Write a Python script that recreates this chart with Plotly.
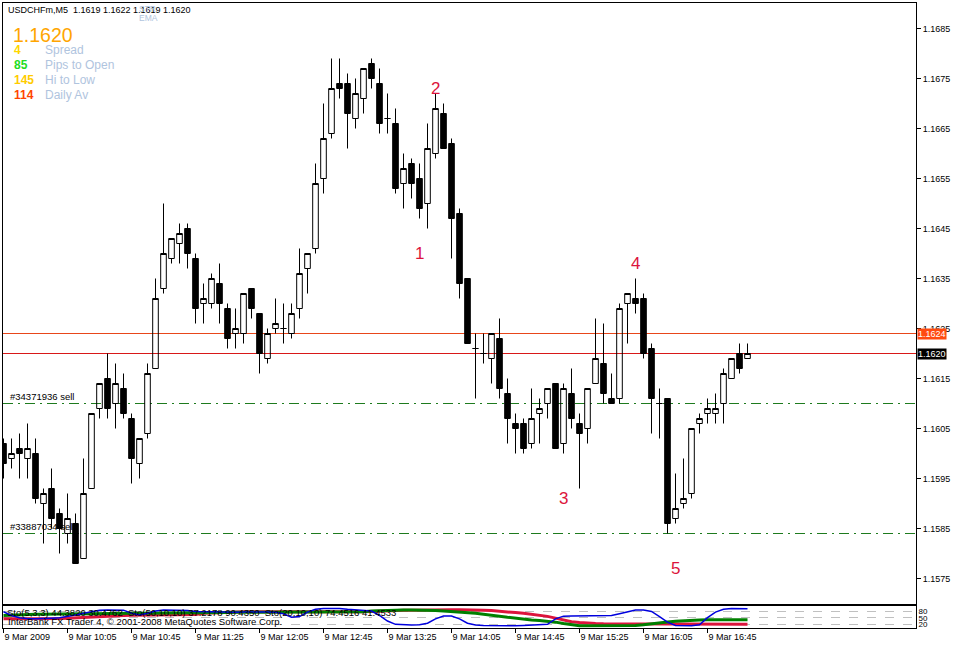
import plotly.graph_objects as go

# ---------------- data (USDCHFm, M5, 9 Mar 2009 from 09:25) ----------------
open_ = [1.1602, 1.1599, 1.1601, 1.1599, 1.1600, 1.1590, 1.1593, 1.1588, 1.1584, 1.1586,
         1.1579, 1.1593, 1.1609, 1.1615, 1.1610, 1.1613, 1.1607, 1.1598, 1.1604, 1.1617,
         1.1633, 1.1639, 1.1642, 1.1645, 1.1639, 1.1630, 1.1630, 1.1634, 1.1629, 1.1624,
         1.1624, 1.1633, 1.1628, 1.1619, 1.1625, 1.1625, 1.1624, 1.1629, 1.1637, 1.1641,
         1.1655, 1.1664, 1.1674, 1.1674, 1.1667, 1.1671, 1.1678, 1.1674, 1.1667, 1.1666,
         1.1654, 1.1658, 1.1655, 1.1650, 1.1660, 1.1668, 1.1662, 1.1648, 1.1635, 1.1621,
         1.1620, 1.1619, 1.1623, 1.1612, 1.1606, 1.1606, 1.1602, 1.1608, 1.1610, 1.1614,
         1.1602, 1.1612, 1.1606, 1.1605, 1.1614, 1.1618, 1.1611, 1.1611, 1.1630, 1.1631,
         1.1631, 1.1621, 1.1610, 1.1611, 1.1587, 1.1590, 1.1592, 1.1606, 1.1608, 1.1608,
         1.1610, 1.1615, 1.1620, 1.1619]
high = [1.1603, 1.1603, 1.1604, 1.1606, 1.1603, 1.1593, 1.1597, 1.1589, 1.1592, 1.1588,
        1.1599, 1.1608, 1.1614, 1.1620, 1.1618, 1.1616, 1.1608, 1.1603, 1.1618, 1.1635,
        1.1650, 1.1643, 1.1646, 1.1646, 1.1640, 1.1634, 1.1636, 1.1638, 1.1630, 1.1629,
        1.1632, 1.1633, 1.1628, 1.1625, 1.1631, 1.1630, 1.1630, 1.1641, 1.1640, 1.1658,
        1.1670, 1.1679, 1.1679, 1.1676, 1.1675, 1.1677, 1.1679, 1.1677, 1.1672, 1.1669,
        1.1660, 1.1659, 1.1658, 1.1666, 1.1672, 1.1670, 1.1663, 1.1649, 1.1635, 1.1624,
        1.1624, 1.1624, 1.1627, 1.1615, 1.1608, 1.1607, 1.1613, 1.1611, 1.1613, 1.1614,
        1.1614, 1.1617, 1.1608, 1.1613, 1.1627, 1.1626, 1.1616, 1.1630, 1.1632, 1.1635,
        1.1632, 1.1622, 1.1613, 1.1611, 1.1596, 1.1599, 1.1605, 1.1608, 1.1611, 1.1612,
        1.1617, 1.1619, 1.1622, 1.1622]
low = [1.1595, 1.1597, 1.1595, 1.1595, 1.1590, 1.1582, 1.1585, 1.1580, 1.1582, 1.1578,
       1.1579, 1.1593, 1.1607, 1.1607, 1.1605, 1.1607, 1.1594, 1.1595, 1.1603, 1.1617,
       1.1632, 1.1638, 1.1638, 1.1637, 1.1626, 1.1626, 1.1629, 1.1626, 1.1621, 1.1621,
       1.1622, 1.1627, 1.1616, 1.1618, 1.1624, 1.1622, 1.1623, 1.1627, 1.1632, 1.1640,
       1.1652, 1.1663, 1.1671, 1.1661, 1.1665, 1.1668, 1.1673, 1.1664, 1.1664, 1.1652,
       1.1649, 1.1651, 1.1647, 1.1645, 1.1659, 1.1661, 1.1639, 1.1631, 1.1622, 1.1611,
       1.1618, 1.1614, 1.1611, 1.1602, 1.1600, 1.1600, 1.1601, 1.1602, 1.1607, 1.1601,
       1.1600, 1.1605, 1.1593, 1.1602, 1.1614, 1.1610, 1.1610, 1.1610, 1.1622, 1.1628,
       1.1619, 1.1604, 1.1603, 1.1584, 1.1586, 1.1589, 1.1591, 1.1604, 1.1606, 1.1606,
       1.1606, 1.1615, 1.1616, 1.1619]
close = [1.1598, 1.1600, 1.1600, 1.1601, 1.1591, 1.1592, 1.1587, 1.1585, 1.1587, 1.1578,
         1.1592, 1.1608, 1.1614, 1.1609, 1.1614, 1.1608, 1.1599, 1.1603, 1.1616, 1.1631,
         1.1640, 1.1643, 1.1644, 1.1640, 1.1629, 1.1631, 1.1635, 1.1630, 1.1623, 1.1625,
         1.1632, 1.1629, 1.1620, 1.1624, 1.1626, 1.1625, 1.1628, 1.1636, 1.1640, 1.1654,
         1.1663, 1.1673, 1.1673, 1.1668, 1.1672, 1.1677, 1.1675, 1.1666, 1.1667, 1.1653,
         1.1657, 1.1654, 1.1649, 1.1661, 1.1669, 1.1661, 1.1647, 1.1634, 1.1622, 1.1621,
         1.1620, 1.1624, 1.1613, 1.1607, 1.1605, 1.1601, 1.1607, 1.1609, 1.1613, 1.1601,
         1.1613, 1.1607, 1.1604, 1.1613, 1.1619, 1.1612, 1.1610, 1.1629, 1.1632, 1.1630,
         1.1620, 1.1611, 1.1610, 1.1586, 1.1589, 1.1591, 1.1605, 1.1607, 1.1609, 1.1609,
         1.1616, 1.1619, 1.1617, 1.1620]

# stochastic oscillators in the lower window (0..100)
sto_fast = [77, 60, 50, 45, 45, 45, 48, 50, 55, 62, 70, 78, 84, 85, 85, 84, 70, 62, 70, 80,
            85, 85, 85, 82, 78, 77, 76, 76, 75, 75, 76, 77, 77, 76, 74, 68, 52, 55, 75, 88,
            92, 92, 92, 88, 85, 85, 80, 60, 35, 20, 18, 17, 18, 25, 45, 58, 58, 45, 25, 17,
            15, 14, 14, 14, 14, 15, 16, 18, 20, 45, 57, 58, 58, 59, 59, 60, 60, 68, 78, 85,
            85, 78, 55, 30, 15, 14, 14, 18, 50, 75, 88, 92, 92, 90]
sto_slow = [45, 45, 44, 44, 44, 45, 45, 46, 48, 50, 52, 55, 57, 59, 60, 60, 61, 61, 62, 62,
            62, 63, 63, 64, 64, 70, 72, 74, 75, 76, 77, 77, 77, 77, 77, 77, 75, 74, 74, 74,
            74, 74, 75, 75, 76, 77, 78, 80, 81, 82, 83, 84, 85, 86, 86, 86, 86, 86, 86, 85,
            84, 82, 80, 77, 73, 70, 66, 62, 56, 48, 40, 32, 28, 25, 24, 23, 23, 23, 23, 23,
            22, 22, 21, 21, 20, 20, 20, 20, 20, 20, 20, 20, 20, 20]
sto_mid = [60, 62, 64, 66, 66, 66, 67, 67, 67, 68, 68, 68, 69, 69, 69, 69, 70, 70, 70, 70,
           70, 70, 70, 70, 70, 72, 72, 73, 73, 74, 74, 75, 75, 75, 76, 76, 76, 77, 77, 77,
           77, 77, 77, 77, 77, 77, 80, 82, 84, 85, 85, 85, 85, 84, 82, 80, 78, 75, 72, 70,
           66, 63, 57, 52, 47, 44, 40, 37, 34, 30, 24, 18, 14, 14, 14, 14, 14, 14, 14, 15,
           18, 23, 27, 31, 34, 37, 39, 40, 41, 41, 41, 41, 41, 41]

tick_bars = [0, 8, 16, 24, 32, 40, 48, 56, 64, 72, 80, 88]
tick_labels = ["9 Mar 2009", "9 Mar 10:05", "9 Mar 10:45", "9 Mar 11:25", "9 Mar 12:05",
               "9 Mar 12:45", "9 Mar 13:25", "9 Mar 14:05", "9 Mar 14:45", "9 Mar 15:25",
               "9 Mar 16:05", "9 Mar 16:45"]
price_ticks = [1.1575, 1.1585, 1.1595, 1.1605, 1.1615, 1.1625, 1.1635, 1.1645, 1.1655,
               1.1665, 1.1675, 1.1685]
sto_levels = [20, 50, 80]

ask_price = 1.1624
bid_price = 1.1620
orders = [("#34371936 sell", 1.1610), ("#33887034 sell", 1.1584)]
wave_text = ["1", "2", "3", "4", "5"]
wave_bar = [52, 54, 70, 79, 84]
wave_price = [1.1640, 1.1673, 1.1591, 1.1638, 1.1577]

info_values = ["4", "85", "145", "114"]
info_names = ["Spread", "Pips to Open", "Hi to Low", "Daily Av"]
info_colors = ["#FFD700", "#22DD22", "#FFCC00", "#FF4500"]

# ---------------- figure ----------------
W, H = 953, 646
L, R, T, B = 3, 37, 3, 18
pw, ph = W - L - R, H - T - B


def px(x):
    return (x - L) / pw


def py(y):
    return (H - B - y) / ph


bars = list(range(len(open_)))
AX = "Liberation Sans"

fig = go.Figure()
fig.add_trace(go.Candlestick(
    x=bars, open=open_, high=high, low=low, close=close,
    xaxis="x", yaxis="y", whiskerwidth=0, hoverinfo="skip",
    increasing=dict(line=dict(color="black", width=1), fillcolor="rgba(0,0,0,0)"),
    decreasing=dict(line=dict(color="black", width=1), fillcolor="black"),
    showlegend=False,
))
fig.add_trace(go.Scatter(x=bars, y=sto_slow, xaxis="x2", yaxis="y2", mode="lines",
                         line=dict(color="#DC143C", width=3), hoverinfo="skip", showlegend=False))
fig.add_trace(go.Scatter(x=bars, y=sto_mid, xaxis="x2", yaxis="y2", mode="lines",
                         line=dict(color="#008000", width=3), hoverinfo="skip", showlegend=False))
fig.add_trace(go.Scatter(x=bars, y=sto_fast, xaxis="x2", yaxis="y2", mode="lines",
                         line=dict(color="#0000DD", width=1.5), hoverinfo="skip", showlegend=False))

X0 = 3.5          # pixel centre of the first bar
xr = [(L - X0) / 8, (W - R - X0) / 8]
main_top_px, main_bot_px = T, 604
Y85 = 28.5        # pixel row centre of 1.1685
y_hi = 1.1685 + (Y85 - main_top_px) / 50000
y_lo = 1.1685 - (main_bot_px - Y85) / 50000

shapes = [
    dict(type="line", xref="paper", yref="y", x0=0, x1=1, y0=ask_price, y1=ask_price,
         line=dict(color="#E8461A", width=1), layer="below"),
    dict(type="line", xref="paper", yref="y", x0=0, x1=1, y0=bid_price, y1=bid_price,
         line=dict(color="#D81818", width=1), layer="below"),
]
for _, p in orders:
    shapes.append(dict(type="line", xref="paper", yref="y", x0=0, x1=1, y0=p, y1=p,
                       line=dict(color="#1E7B1E", width=1, dash="10px,5px,2px,5px"), layer="below"))

ann = []
# header
ann.append(dict(text="USDCHFm,M5  1.1619 1.1622 1.1619 1.1620", xref="paper", yref="paper",
                x=px(6), y=py(10), xanchor="left", yanchor="middle", showarrow=False,
                font=dict(family=AX, size=9, color="black")))
ann.append(dict(text="STR", xref="paper", yref="paper", x=px(137), y=py(9), xanchor="left",
                yanchor="middle", showarrow=False, font=dict(family=AX, size=8.5, color="#B0C4DE")))
ann.append(dict(text="EMA", xref="paper", yref="paper", x=px(137), y=py(18), xanchor="left",
                yanchor="middle", showarrow=False, font=dict(family=AX, size=8.5, color="#B0C4DE")))
ann.append(dict(text="1.1620", xref="paper", yref="paper", x=px(11), y=py(35), xanchor="left",
                yanchor="middle", showarrow=False, font=dict(family=AX, size=19.5, color="#FFA500")))
for k, (v, n, c) in enumerate(zip(info_values, info_names, info_colors)):
    yy = 50 + 15 * k
    ann.append(dict(text="<b>%s</b>" % v, xref="paper", yref="paper", x=px(12), y=py(yy),
                    xanchor="left", yanchor="middle", showarrow=False,
                    font=dict(family=AX, size=12, color=c)))
    ann.append(dict(text=n, xref="paper", yref="paper", x=px(43), y=py(yy),
                    xanchor="left", yanchor="middle", showarrow=False,
                    font=dict(family=AX, size=12, color="#B0C4DE")))
# order labels
for name, p in orders:
    ann.append(dict(text=name, xref="paper", yref="y", x=px(8), y=p, xanchor="left",
                    yanchor="bottom", yshift=0, showarrow=False,
                    font=dict(family=AX, size=9.5, color="black")))
# wave counts
for t, b, p in zip(wave_text, wave_bar, wave_price):
    ann.append(dict(text=t, xref="x", yref="y", x=b, y=p, showarrow=False,
                    font=dict(family=AX, size=17, color="#DC143C")))
# price tags
ann.append(dict(text="1.1624", xref="paper", yref="y", x=1, y=ask_price, xanchor="left",
                yanchor="middle", xshift=1, showarrow=False, bgcolor="#FF4A10", borderpad=0,
                font=dict(family=AX, size=9, color="white")))
ann.append(dict(text="1.1620", xref="paper", yref="y", x=1, y=bid_price, xanchor="left",
                yanchor="middle", xshift=1, showarrow=False, bgcolor="black", borderpad=0,
                font=dict(family=AX, size=9, color="white")))
# indicator window texts
ann.append(dict(text="Sto(5,3,3) 44.3820 30.4762  Sto(50,10,10) 37.2178 90.4350  Sto(20,10,10) 74.4516 41.4533",
                xref="paper", yref="paper", x=px(5), y=py(612), xanchor="left", yanchor="middle",
                showarrow=False, font=dict(family=AX, size=9.5, color="black")))
ann.append(dict(text="InterBank FX Trader 4, © 2001-2008 MetaQuotes Software Corp.",
                xref="paper", yref="paper", x=px(6), y=py(621), xanchor="left", yanchor="middle",
                showarrow=False, font=dict(family=AX, size=9.5, color="black")))

fig.update_layout(
    width=W, height=H, margin=dict(l=L, r=R, t=T, b=B, pad=0),
    paper_bgcolor="white", plot_bgcolor="white", showlegend=False,
    boxgap=0.3, boxgroupgap=0,
    xaxis=dict(domain=[0, 1], anchor="y", range=xr, showticklabels=False, ticks="",
               showgrid=False, zeroline=False, showline=True, mirror=True, linecolor="black",
               linewidth=1, rangeslider=dict(visible=False), fixedrange=True),
    xaxis2=dict(domain=[0, 1], anchor="y2", matches="x", range=xr, showgrid=False, zeroline=False,
                showline=True, mirror=True, linecolor="black", linewidth=1,
                tickmode="array", tickvals=tick_bars, ticktext=tick_labels,
                ticks="outside", ticklen=4, tickcolor="black", ticklabelposition="outside right",
                tickfont=dict(family=AX, size=9, color="black"), rangeslider=dict(visible=False)),
    yaxis=dict(domain=[py(main_bot_px), 1], anchor="x", range=[y_lo, y_hi], side="right",
               showgrid=False, zeroline=False, showline=True, mirror=True, linecolor="black",
               linewidth=1, tickmode="array", tickvals=price_ticks,
               ticktext=["%.4f" % v for v in price_ticks], ticks="outside", ticklen=4,
               tickcolor="black", tickfont=dict(family=AX, size=9, color="black")),
    yaxis2=dict(domain=[0, py(606)], anchor="x2", range=[3.6, 102.7], side="right",
                showgrid=True, gridcolor="#C0C0C0", griddash="dash", gridwidth=1,
                zeroline=False, showline=True, mirror=True, linecolor="black", linewidth=1,
                tickmode="array", tickvals=sto_levels, ticktext=[str(v) for v in sto_levels],
                ticks="", tickfont=dict(family=AX, size=8, color="black")),
    shapes=shapes, annotations=ann,
)

fig.write_html("out.html", config={"displayModeBar": False},
               post_script="document.body.style.margin='0';document.body.style.overflow='hidden';")
